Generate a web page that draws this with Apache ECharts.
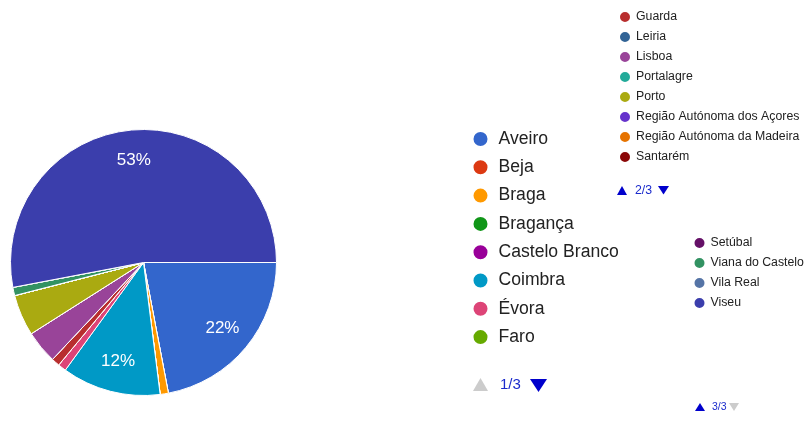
<!DOCTYPE html>
<html>
<head>
<meta charset="utf-8">
<script src="https://cdn.jsdelivr.net/npm/echarts@6/dist/echarts.min.js"></script>
<style>
  html, body { margin: 0; padding: 0; background: #ffffff; }
  #chart { width: 804px; height: 421px; }
</style>
</head>
<body>
<div id="chart"></div>
<script>
// Categories (districts) in legend order
const districts = [
  'Aveiro', 'Beja', 'Braga', 'Bragança', 'Castelo Branco', 'Coimbra', 'Évora', 'Faro',
  'Guarda', 'Leiria', 'Lisboa', 'Portalagre', 'Porto', 'Região Autónoma dos Açores',
  'Região Autónoma da Madeira', 'Santarém',
  'Setúbal', 'Viana do Castelo', 'Vila Real', 'Viseu'
];
// Responses per district
const responses = [22, 0, 1, 0, 0, 12, 1, 0, 1, 0, 4, 0, 5, 0, 0, 0, 0, 1, 0, 53];
// Slice colours (Google Charts palette)
const palette = [
  '#3366cc', '#dc3912', '#ff9900', '#109618', '#990099', '#0099c6', '#dd4477', '#66aa00',
  '#b82e2e', '#316395', '#994499', '#22aa99', '#aaaa11', '#6633cc', '#e67300', '#8b0707',
  '#651067', '#329262', '#5574a6', '#3b3eac'
];
// Legend pages
const page1 = districts.slice(0, 8);
const page2 = districts.slice(8, 16);
const page3 = districts.slice(16, 20);
const pageLabels = ['1/3', '2/3', '3/3'];

const FONT = 'Arial, "Liberation Sans", sans-serif';
const pieData = districts.map((n, i) => ({ name: n, value: responses[i] }));

const chart = echarts.init(document.getElementById('chart'), null, { renderer: 'canvas' });

function legendCfg(data, left, top, size, gap, fontSize) {
  return {
    data: data, orient: 'vertical', left: left, top: top, padding: 0,
    icon: 'circle', itemWidth: size[0], itemHeight: size[1], itemGap: gap,
    selectedMode: false,
    textStyle: { fontSize: fontSize, lineHeight: size[1], color: '#222222', fontFamily: FONT }
  };
}

function tri(points, color) {
  return { type: 'polygon', shape: { points: points }, style: { fill: color }, silent: true };
}
function navText(x, y, txt, size) {
  return { type: 'text', x: x, y: y, silent: true,
    style: { text: txt, fontSize: size, fontFamily: FONT, fill: '#1a2acc', textVerticalAlign: 'middle', verticalAlign: 'middle' } };
}

const option = {
  backgroundColor: '#ffffff',
  animation: false,
  color: palette,
  legend: [
    legendCfg(page1, 471.5, 130, [26, 16], 10.3, 17.6),
    legendCfg(page2, 618, 10, [12, 12], 6, 12.3),
    legendCfg(page3, 692.5, 236, [12, 12], 6, 12.3)
  ],
  series: [
    {
      type: 'pie',
      center: [143.5, 262.5],
      radius: [0, 133],
      startAngle: 0,
      clockwise: true,
      data: pieData,
      label: { show: false },
      labelLine: { show: false },
      itemStyle: { borderColor: '#ffffff', borderWidth: 1 },
      emphasis: { disabled: true }
    },
    {
      type: 'pie',
      center: [143.5, 262.5],
      radius: [66, 133],
      startAngle: 0,
      clockwise: true,
      silent: true,
      percentPrecision: 0,
      data: pieData,
      itemStyle: { color: 'rgba(0,0,0,0)', borderWidth: 0 },
      labelLine: { show: false },
      label: {
        show: true, position: 'inside', color: '#ffffff', fontSize: 17, fontFamily: FONT,
        formatter: p => (p.percent >= 10 ? p.percent + '%' : '')
      },
      emphasis: { disabled: true }
    }
  ],
  graphic: [
    tri([[473, 391], [488, 391], [480.5, 378]], '#cccccc'),
    navText(500, 385, pageLabels[0], 15),
    tri([[530, 379], [547, 379], [538.5, 392]], '#0000cc'),

    tri([[617, 195], [627, 195], [622, 186]], '#0000cc'),
    navText(635, 190.5, pageLabels[1], 12.3),
    tri([[658, 186], [669, 186], [663.5, 194.5]], '#0000cc'),

    tri([[695, 411], [705, 411], [700, 403]], '#0000cc'),
    navText(712, 407, pageLabels[2], 10.5),
    tri([[729, 403], [739, 403], [734, 411]], '#cccccc')
  ]
};
chart.setOption(option);
</script>
</body>
</html>
